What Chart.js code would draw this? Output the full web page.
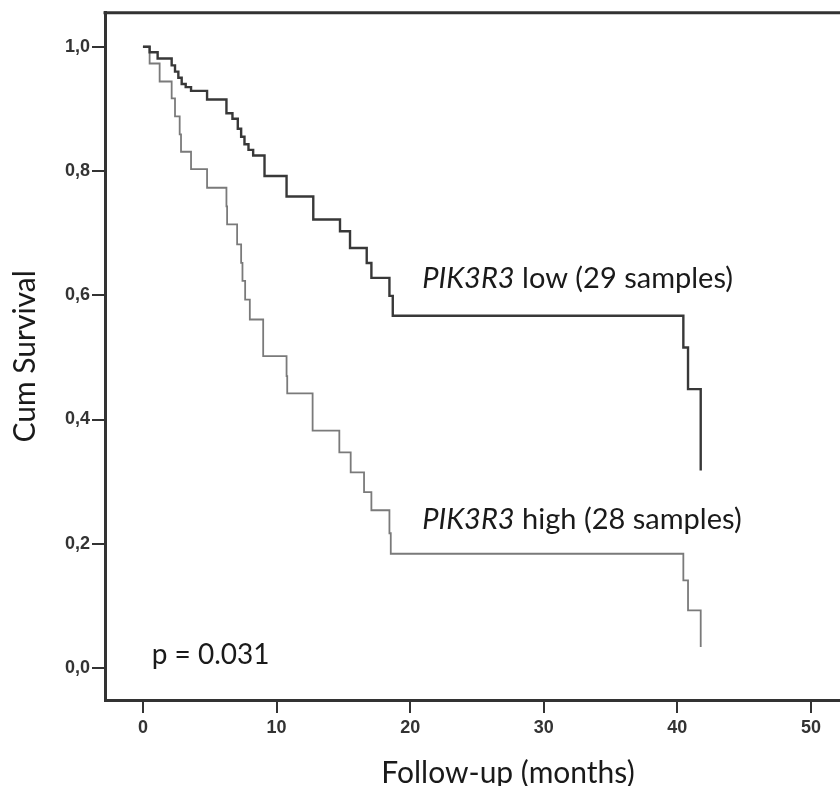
<!DOCTYPE html>
<html>
<head>
<meta charset="utf-8">
<script src="https://cdn.jsdelivr.net/npm/chart.js@4.4.1/dist/chart.umd.min.js"></script>
<style>
  html, body { margin: 0; padding: 0; background: #fff; overflow: hidden; }
  #wrap { width: 930px; height: 800px; }
</style>
</head>
<body>
<div id="wrap"><canvas id="km" width="930" height="800"></canvas></div>
<script>
// Kaplan-Meier: tempo (meses) e sobrevida acumulada
var lowTime = [0, 0.5, 1.1, 2.15, 2.4, 2.65, 2.9, 3.2, 3.6, 4.8, 6.25, 6.7, 7.1, 7.35, 7.6, 7.9, 8.25, 9.1, 10.75, 12.75, 14.75, 15.5, 16.75, 17.1, 18.45, 18.7, 40.45, 40.8, 41.75];
var lowSurv = [1.0, 0.991, 0.981, 0.97, 0.96, 0.95, 0.94, 0.935, 0.929, 0.915, 0.893, 0.884, 0.868, 0.855, 0.843, 0.834, 0.825, 0.792, 0.759, 0.722, 0.703, 0.676, 0.652, 0.628, 0.599, 0.567, 0.516, 0.449, 0.318];

var highTime = [0, 0.5, 1.25, 2.15, 2.4, 2.75, 2.85, 3.6, 4.8, 6.25, 6.3, 7.05, 7.35, 7.45, 7.65, 8.0, 9.0, 10.75, 10.8, 12.7, 14.7, 15.55, 16.55, 17.1, 18.45, 18.55, 40.45, 40.8, 41.75];
var highSurv = [1.0, 0.973, 0.944, 0.917, 0.888, 0.859, 0.831, 0.803, 0.773, 0.743, 0.714, 0.682, 0.652, 0.623, 0.593, 0.561, 0.502, 0.47, 0.442, 0.382, 0.347, 0.315, 0.283, 0.254, 0.217, 0.184, 0.141, 0.093, 0.034];

var xTicks = [0, 10, 20, 30, 40, 50];
var yTicks = [0, 0.2, 0.4, 0.6, 0.8, 1.0];

var lowLabel = ['PIK3R3', ' low (29 samples)'];
var highLabel = ['PIK3R3', ' high (28 samples)'];
var pLabel = 'p = 0.031';

var labelFont = 'Lato, "Open Sans", sans-serif';

/**
 * Junta tempo e sobrevida em pontos {x, y}
 */
function toPoints(times, surv) {
    return times.map(function(t, i) {
        return {x: t, y: surv[i]};
    });
}

/**
 * Escreve um rótulo com a primeira parte em itálico
 */
function drawMixed(ctx, parts, x, y, size) {
    ctx.font = 'italic ' + size + 'px ' + labelFont;
    ctx.fillText(parts[0], x, y);
    var w = ctx.measureText(parts[0]).width;
    ctx.font = size + 'px ' + labelFont;
    ctx.fillText(parts[1], x + w, y);
}

// moldura superior e textos dentro do gráfico
var kmText = {
    id: 'kmText',
    afterDraw: function(chart) {
        var ctx = chart.ctx,
            xs = chart.scales.x,
            ys = chart.scales.y,
            area = chart.chartArea;
        ctx.save();
        ctx.strokeStyle = '#333';
        ctx.lineWidth = 3;
        ctx.beginPath();
        ctx.moveTo(area.left - 1.5, area.top);
        ctx.lineTo(area.right + 30, area.top);
        ctx.stroke();

        ctx.fillStyle = '#1a1a1a';
        ctx.textBaseline = 'alphabetic';
        ctx.textAlign = 'left';
        drawMixed(ctx, lowLabel, xs.getPixelForValue(20.9), ys.getPixelForValue(0.611), 29);
        drawMixed(ctx, highLabel, xs.getPixelForValue(20.9), ys.getPixelForValue(0.224), 29);
        ctx.font = '28px ' + labelFont;
        ctx.fillText(pLabel, xs.getPixelForValue(0.65), ys.getPixelForValue(0.006));
        ctx.restore();
    }
};

var chart = new Chart(document.getElementById('km'), {
    type: 'line',
    data: {
        datasets: [{
            label: 'low',
            data: toPoints(lowTime, lowSurv),
            borderColor: '#383838',
            borderWidth: 2.4,
            stepped: 'before',
            pointRadius: 0,
            fill: false
        }, {
            label: 'high',
            data: toPoints(highTime, highSurv),
            borderColor: '#7a7a7a',
            borderWidth: 1.8,
            stepped: 'before',
            pointRadius: 0,
            fill: false
        }]
    },
    options: {
        responsive: false,
        animation: false,
        devicePixelRatio: 1,
        layout: {
            padding: {top: 11, right: 19, left: 0, bottom: 0}
        },
        plugins: {
            legend: {display: false},
            tooltip: {enabled: false}
        },
        scales: {
            x: {
                type: 'linear',
                min: -2.84,
                max: 57.49,
                afterFit: function(scale) { scale.height = 100; },
                afterBuildTicks: function(scale) {
                    scale.ticks = xTicks.map(function(v) { return {value: v}; });
                },
                grid: {
                    drawOnChartArea: false,
                    drawTicks: true,
                    tickLength: 13,
                    color: '#333',
                    lineWidth: 2
                },
                border: {display: true, color: '#333', width: 3},
                ticks: {
                    padding: 4,
                    color: '#333',
                    maxRotation: 0,
                    font: {family: '"Liberation Sans", Arial, sans-serif', size: 18, weight: 'bold'}
                },
                title: {
                    display: true,
                    text: 'Follow-up (months)',
                    color: '#1a1a1a',
                    font: {family: labelFont, size: 30},
                    padding: {top: 0, bottom: 9}
                }
            },
            y: {
                type: 'linear',
                min: -0.0514,
                max: 1.0546,
                afterFit: function(scale) { scale.width = 105; },
                afterBuildTicks: function(scale) {
                    scale.ticks = yTicks.map(function(v) { return {value: v}; });
                },
                grid: {
                    drawOnChartArea: false,
                    drawTicks: true,
                    tickLength: 13,
                    color: '#333',
                    lineWidth: 2
                },
                border: {display: true, color: '#333', width: 3},
                ticks: {
                    padding: 2,
                    color: '#333',
                    font: {family: '"Liberation Sans", Arial, sans-serif', size: 18, weight: 'bold'},
                    callback: function(v) { return v.toFixed(1).replace('.', ','); }
                },
                title: {
                    display: true,
                    text: 'Cum Survival',
                    color: '#1a1a1a',
                    font: {family: labelFont, size: 30},
                    padding: {top: 7, bottom: 0}
                }
            }
        }
    },
    plugins: [kmText]
});
</script>
</body>
</html>
